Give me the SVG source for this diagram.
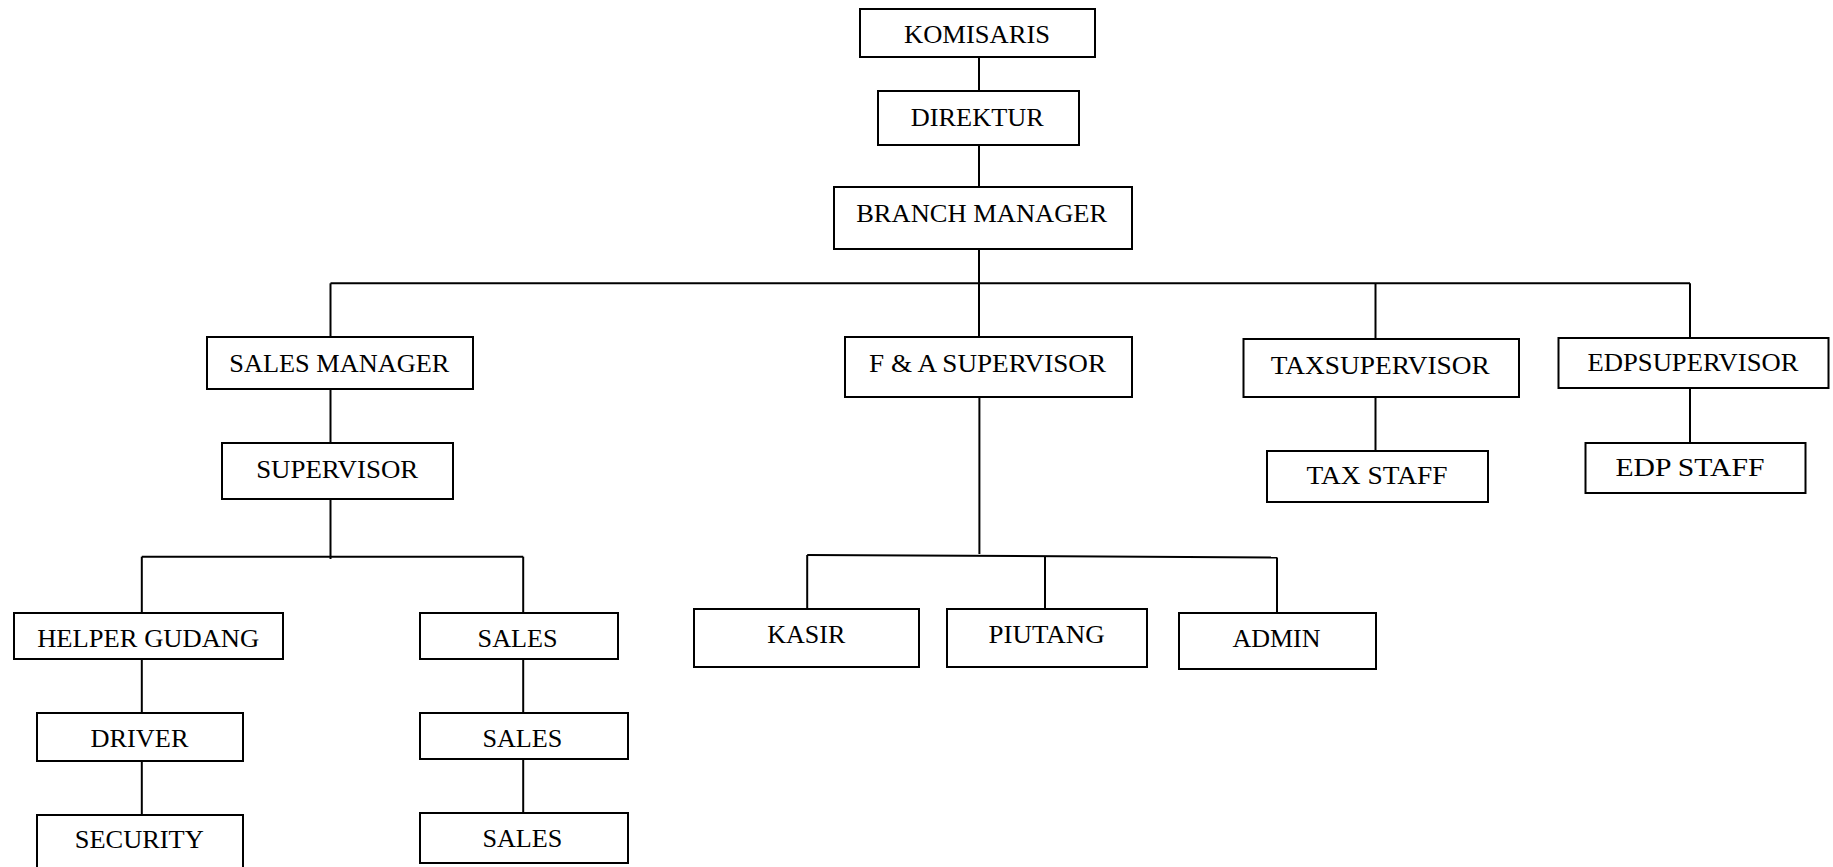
<svg xmlns="http://www.w3.org/2000/svg" width="1833" height="867" viewBox="0 0 1833 867">
<style>
.box{fill:#fff;stroke:#000;stroke-width:2}
.ln{stroke:#000;stroke-width:2;fill:none}
text{font-family:"Liberation Serif","Times New Roman",serif;font-size:26px;fill:#000;text-anchor:middle}
</style>
<rect width="1833" height="867" fill="#fff"/>
<g id="connectors">
<line class="ln" x1="979" y1="57" x2="979" y2="91"/>
<line class="ln" x1="979" y1="145" x2="979" y2="187"/>
<line class="ln" x1="979" y1="249" x2="979" y2="337"/>
<line class="ln" x1="330.5" y1="283.3" x2="1690" y2="283.3"/>
<line class="ln" x1="330.5" y1="283.3" x2="330.5" y2="337"/>
<line class="ln" x1="1375.5" y1="283.3" x2="1375.5" y2="339"/>
<line class="ln" x1="1690" y1="283.3" x2="1690" y2="338"/>
<line class="ln" x1="330.5" y1="389" x2="330.5" y2="443"/>
<line class="ln" x1="330.5" y1="499" x2="330.5" y2="559"/>
<line class="ln" x1="141.8" y1="556.7" x2="523.2" y2="556.7"/>
<line class="ln" x1="141.8" y1="556.7" x2="141.8" y2="613"/>
<line class="ln" x1="523.2" y1="556.7" x2="523.2" y2="613"/>
<line class="ln" x1="141.8" y1="659" x2="141.8" y2="713"/>
<line class="ln" x1="141.8" y1="761" x2="141.8" y2="815"/>
<line class="ln" x1="523.2" y1="659" x2="523.2" y2="713"/>
<line class="ln" x1="523.2" y1="759" x2="523.2" y2="813"/>
<line class="ln" x1="979.4" y1="397" x2="979.4" y2="554"/>
<line class="ln" x1="807.2" y1="555" x2="1277" y2="557.5"/>
<line class="ln" x1="807.2" y1="555" x2="807.2" y2="609"/>
<line class="ln" x1="1045" y1="556.3" x2="1045" y2="609"/>
<line class="ln" x1="1277" y1="557.5" x2="1277" y2="613"/>
<line class="ln" x1="1375.5" y1="397" x2="1375.5" y2="451"/>
<line class="ln" x1="1690" y1="388" x2="1690" y2="443"/>
</g>
<g id="komisaris"><rect class="box" x="860" y="9" width="235" height="48"/><text x="977" y="43" textLength="146" lengthAdjust="spacingAndGlyphs">KOMISARIS</text></g>
<g id="direktur"><rect class="box" x="878" y="91" width="201" height="54"/><text x="977.3" y="126" textLength="133" lengthAdjust="spacingAndGlyphs">DIREKTUR</text></g>
<g id="branch-manager"><rect class="box" x="834" y="187" width="298" height="62"/><text x="981.7" y="222" textLength="251" lengthAdjust="spacingAndGlyphs">BRANCH MANAGER</text></g>
<g id="sales-manager"><rect class="box" x="207" y="337" width="266" height="52"/><text x="339.3" y="372" textLength="220" lengthAdjust="spacingAndGlyphs">SALES MANAGER</text></g>
<g id="supervisor"><rect class="box" x="222" y="443" width="231" height="56"/><text x="337.2" y="478" textLength="162" lengthAdjust="spacingAndGlyphs">SUPERVISOR</text></g>
<g id="helper-gudang"><rect class="box" x="14" y="613" width="269" height="46"/><text x="148.2" y="647" textLength="222" lengthAdjust="spacingAndGlyphs">HELPER GUDANG</text></g>
<g id="driver"><rect class="box" x="37" y="713" width="206" height="48"/><text x="139.5" y="747" textLength="98" lengthAdjust="spacingAndGlyphs">DRIVER</text></g>
<g id="security"><rect class="box" x="37" y="815" width="206" height="60"/><text x="139.3" y="848" textLength="129" lengthAdjust="spacingAndGlyphs">SECURITY</text></g>
<g id="sales-1"><rect class="box" x="420" y="613" width="198" height="46"/><text x="517.6" y="647" textLength="80" lengthAdjust="spacingAndGlyphs">SALES</text></g>
<g id="sales-2"><rect class="box" x="420" y="713" width="208" height="46"/><text x="522.4" y="747" textLength="80" lengthAdjust="spacingAndGlyphs">SALES</text></g>
<g id="sales-3"><rect class="box" x="420" y="813" width="208" height="50"/><text x="522.4" y="847" textLength="80" lengthAdjust="spacingAndGlyphs">SALES</text></g>
<g id="fa-supervisor"><rect class="box" x="845" y="337" width="287" height="60"/><text x="987.6" y="372" textLength="237" lengthAdjust="spacingAndGlyphs">F &amp; A SUPERVISOR</text></g>
<g id="kasir"><rect class="box" x="694" y="609" width="225" height="58"/><text x="806.3" y="643" textLength="78" lengthAdjust="spacingAndGlyphs">KASIR</text></g>
<g id="piutang"><rect class="box" x="947" y="609" width="200" height="58"/><text x="1046.6" y="643" textLength="116" lengthAdjust="spacingAndGlyphs">PIUTANG</text></g>
<g id="admin"><rect class="box" x="1179" y="613" width="197" height="56"/><text x="1276.4" y="647" textLength="88" lengthAdjust="spacingAndGlyphs">ADMIN</text></g>
<g id="tax-supervisor"><rect class="box" x="1243.5" y="339" width="275.5" height="58"/><text x="1380.3" y="374" textLength="219" lengthAdjust="spacingAndGlyphs">TAXSUPERVISOR</text></g>
<g id="tax-staff"><rect class="box" x="1267" y="451" width="221" height="51"/><text x="1377" y="484" textLength="141" lengthAdjust="spacingAndGlyphs">TAX STAFF</text></g>
<g id="edp-supervisor"><rect class="box" x="1558.5" y="338" width="270" height="50"/><text x="1693" y="371" textLength="211" lengthAdjust="spacingAndGlyphs">EDPSUPERVISOR</text></g>
<g id="edp-staff"><rect class="box" x="1585.5" y="443" width="220" height="50"/><text x="1690" y="476" textLength="149" lengthAdjust="spacingAndGlyphs">EDP STAFF</text></g>
</svg>
